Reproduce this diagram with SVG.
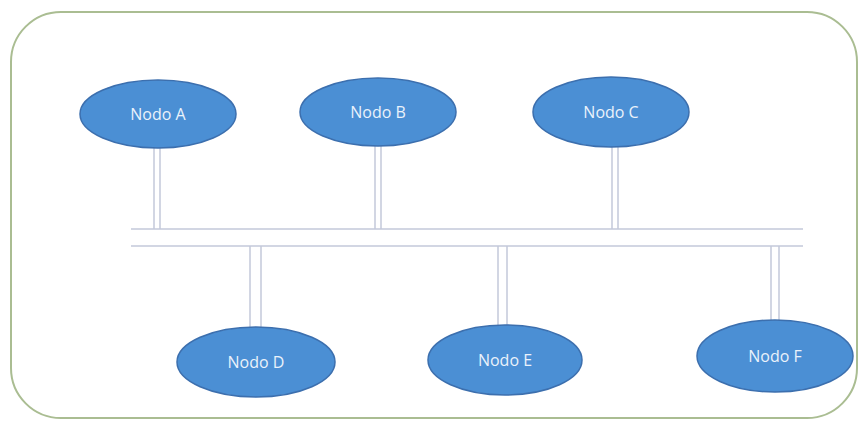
<svg xmlns="http://www.w3.org/2000/svg" width="867" height="425" viewBox="0 0 867 425">
  <style>
    .node ellipse { fill: #4b8fd4; stroke: #3c6fae; stroke-width: 1.5; }
    .node text { fill: #eaf2fb; font-family: "Open Sans", "DejaVu Sans", sans-serif; font-size: 16px; text-anchor: middle; dominant-baseline: central; }
    .wire { stroke: #c3c8da; stroke-width: 1.5; fill: none; }
  </style>
  <rect width="867" height="425" fill="#ffffff"/>
  <!-- outer frame -->
  <rect x="11" y="12" width="846" height="406" rx="50" ry="50" fill="#ffffff" stroke="#aabd92" stroke-width="2"/>

  <g id="connectors">
    <!-- bus -->
    <line class="wire" x1="131" y1="229" x2="803" y2="229"/>
    <line class="wire" x1="131" y1="246" x2="803" y2="246"/>
    <!-- drops to upper nodes -->
    <line class="wire" x1="154" y1="147" x2="154" y2="229"/>
    <line class="wire" x1="160" y1="147" x2="160" y2="229"/>
    <line class="wire" x1="375" y1="145" x2="375" y2="229"/>
    <line class="wire" x1="381" y1="145" x2="381" y2="229"/>
    <line class="wire" x1="612" y1="146" x2="612" y2="229"/>
    <line class="wire" x1="618" y1="146" x2="618" y2="229"/>
    <!-- drops to lower nodes -->
    <line class="wire" x1="250" y1="246" x2="250" y2="328"/>
    <line class="wire" x1="261" y1="246" x2="261" y2="328"/>
    <line class="wire" x1="498" y1="246" x2="498" y2="326"/>
    <line class="wire" x1="507" y1="246" x2="507" y2="326"/>
    <line class="wire" x1="771" y1="246" x2="771" y2="321"/>
    <line class="wire" x1="779" y1="246" x2="779" y2="321"/>
  </g>

  <g id="nodo-a" class="node">
    <ellipse cx="158" cy="114" rx="78" ry="34"/>
    <text x="158" y="114">Nodo A</text>
  </g>
  <g id="nodo-b" class="node">
    <ellipse cx="378" cy="112" rx="78" ry="34"/>
    <text x="378" y="112">Nodo B</text>
  </g>
  <g id="nodo-c" class="node">
    <ellipse cx="611" cy="112" rx="78" ry="35"/>
    <text x="611" y="112">Nodo C</text>
  </g>
  <g id="nodo-d" class="node">
    <ellipse cx="256" cy="362" rx="79" ry="35"/>
    <text x="256" y="362">Nodo D</text>
  </g>
  <g id="nodo-e" class="node">
    <ellipse cx="505" cy="360" rx="77" ry="35"/>
    <text x="505" y="360">Nodo E</text>
  </g>
  <g id="nodo-f" class="node">
    <ellipse cx="775" cy="356" rx="78" ry="36"/>
    <text x="775" y="356">Nodo F</text>
  </g>
</svg>
